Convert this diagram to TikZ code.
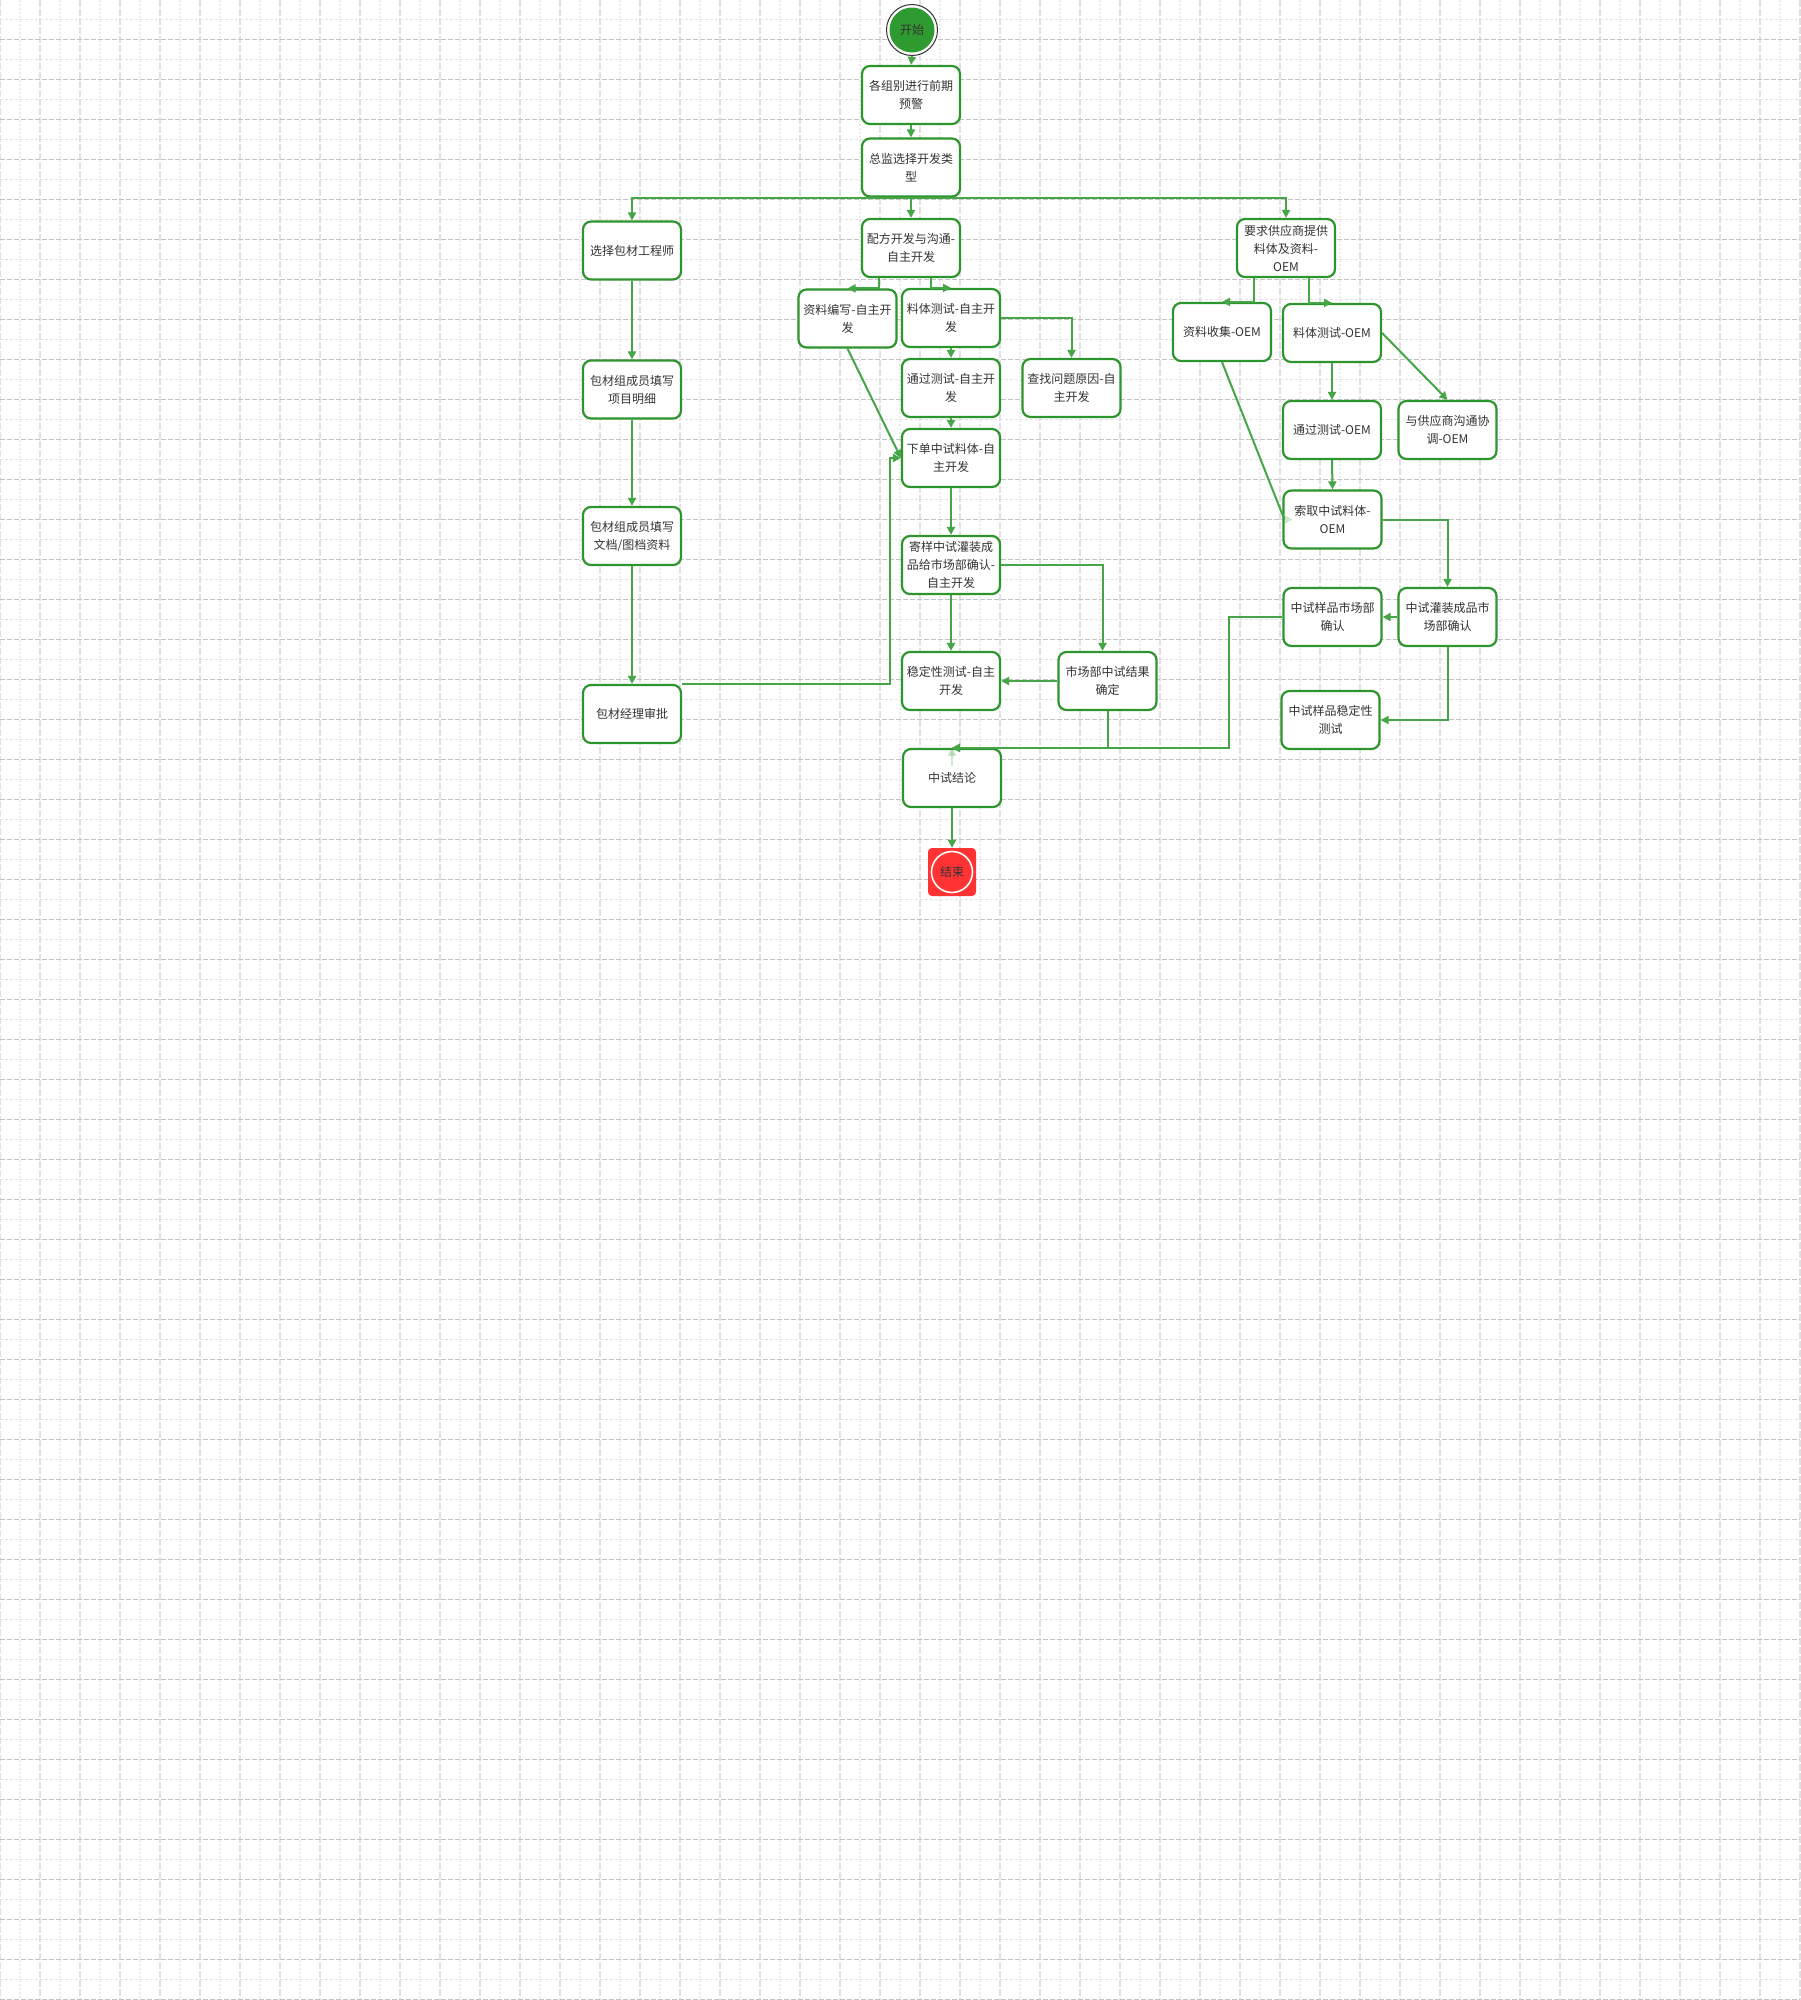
\documentclass[tikz,border=0pt]{standalone}
\usepackage{fontspec}
\setmainfont{Noto Sans CJK SC}
\usetikzlibrary{arrows.meta,calc}
\definecolor{boxgreen}{HTML}{2E952E}
\definecolor{linegreen}{HTML}{46A546}
\definecolor{startgreen}{HTML}{2F9A2F}
\definecolor{txt}{HTML}{333333}
\definecolor{endred}{HTML}{FF3333}
\begin{document}
\begin{tikzpicture}[x=1pt,y=-1pt,
  box/.style={draw=boxgreen,line width=2.2pt,rounded corners=8pt,fill=white,
    minimum width=98pt,minimum height=58pt,inner sep=0pt,align=center,
    text=txt,font=\fontsize{12}{18}\selectfont},
  lbl/.style={text=txt,font=\fontsize{12}{18}\selectfont,inner sep=0pt},
  conn/.style={draw=linegreen,line width=2pt,-{Triangle[length=8pt,width=8pt]}},
  plainconn/.style={draw=linegreen,line width=2pt},
  gmajv/.style={draw={rgb,255:red,224;green,224;blue,224},line width=1.6pt,dash pattern=on 7pt off 2pt},
  gminv/.style={draw={rgb,255:red,236;green,236;blue,236},line width=1.1pt,dash pattern=on 2pt off 2pt},
  gmajh/.style={draw={rgb,255:red,195;green,195;blue,195},line width=1pt,dash pattern=on 5pt off 2pt},
  gminh/.style={draw={rgb,255:red,226;green,226;blue,226},line width=1pt,dash pattern=on 3pt off 2pt}]

\useasboundingbox (0,0) rectangle (1800,2000);
\fill[white] (0,0) rectangle (1800,2000);

% grid
\foreach \i in {0,...,44} { \draw[gminv] (20+40*\i,0) -- (20+40*\i,2000); }
\foreach \i in {0,...,45} { \draw[gmajv] (40*\i,0) -- (40*\i,2000); }
\foreach \i in {0,...,49} { \draw[gminh] (0,19.5+40*\i) -- (1800,19.5+40*\i); }
\foreach \i in {0,...,49} { \draw[gmajh] (0,39.5+40*\i) -- (1800,39.5+40*\i); }

% start
\node[circle,draw=txt,line width=1pt,fill=white,minimum size=51pt,inner sep=0pt] (start) at (912,30) {};
\fill[startgreen] (start.center) circle (22.5);
\node[lbl] (startlbl) at (start.center) {开始};

% main column
\node[box] (b1) at (911,95) {各组别进行前期\\预警};
\node[box] (b2) at (911,167.5) {总监选择开发类\\型};
\node[box] (pf) at (911,248) {配方开发与沟通-\\自主开发};

% left column
\node[box] (xz) at (632,250.5) {选择包材工程师};
\node[box] (xmmx) at (632,389.5) {包材组成员填写\\项目明细};
\node[box] (wd) at (632,536) {包材组成员填写\\文档/图档资料};
\node[box] (spp) at (632,714) {包材经理审批};

% self development
\node[box] (zlbx) at (847.5,318.5) {资料编写-自主开\\发};
\node[box] (ltcs) at (951,318) {料体测试-自主开\\发};
\node[box] (tgcs) at (951,388) {通过测试-自主开\\发};
\node[box] (cz) at (1071.5,388) {查找问题原因-自\\主开发};
\node[box] (xd) at (951,458) {下单中试料体-自\\主开发};
\node[box] (jy) at (951,565) {寄样中试灌装成\\品给市场部确认-\\自主开发};
\node[box] (wdx) at (951,681) {稳定性测试-自主\\开发};
\node[box] (scb) at (1107.5,681) {市场部中试结果\\确定};
\node[box] (zsjl) at (952,778) {中试结论};

% OEM
\node[box] (oem) at (1286,248) {要求供应商提供\\料体及资料-\\OEM};
\node[box] (zlsj) at (1222,332) {资料收集-OEM};
\node[box] (lt2) at (1332,333) {料体测试-OEM};
\node[box] (tg2) at (1332,430) {通过测试-OEM};
\node[box] (yg) at (1447.5,430) {与供应商沟通协\\调-OEM};
\node[box] (qq) at (1332.5,519.5) {索取中试料体-\\OEM};
\node[box] (zyscb) at (1332.5,617) {中试样品市场部\\确认};
\node[box] (gz) at (1447.5,617) {中试灌装成品市\\场部确认};
\node[box] (zywdx) at (1330.5,720) {中试样品稳定性\\测试};

% end
\node[fill=endred,rounded corners=4pt,minimum size=48pt,inner sep=0pt] (end) at (952,872) {};
\draw[white,line width=1.6pt] (end.center) circle (20.5);
\node[lbl] (endlbl) at (end.center) {结束};

% connectors
\draw[conn] (start.south) -- (b1.north);
\draw[conn] (b1.south) -- (b2.north);
\draw[conn] (b2.south) -- (pf.north);
\draw[conn] (b2.south) -| (xz.north);
\draw[conn] (b2.south) -| (oem.north);

\draw[conn] (xz.south) -- (xmmx.north);
\draw[conn] (xmmx.south) -- (wd.north);
\draw[conn] (wd.south) -- (spp.north);
\draw[conn] (spp.north east) -| ([xshift=-11pt]xd.west) -- (xd.west);

\draw[conn] ([xshift=-32pt]pf.south) |- (zlbx.north);
\draw[conn] ([xshift=20pt]pf.south) |- (ltcs.north);
\draw[conn] (zlbx.south) -- (xd.west);
\draw[conn] (ltcs.south) -- (tgcs.north);
\draw[conn] (ltcs.east) -| (cz.north);
\draw[conn] (tgcs.south) -- (xd.north);
\draw[conn] (xd.south) -- (jy.north);
\draw[conn] (jy.south) -- (wdx.north);
\draw[conn] (jy.east) -| ([xshift=-5pt]scb.north);
\draw[conn] (scb.west) -- (wdx.east);
\draw[conn] (scb.south) |- (zsjl.north);
\draw[conn] (zsjl.south) -- (end.north);
\draw[conn,opacity=0.25] ($(zsjl.north)+(0,18)$) -- (zsjl.north);

\draw[conn] ([xshift=-32pt]oem.south) |- (zlsj.north);
\draw[conn] ([xshift=23pt]oem.south) |- (lt2.north);
\draw[plainconn] (zlsj.south) -- ([xshift=2pt]qq.west);
\draw[conn,opacity=0.25,line width=0.5pt] ([xshift=2pt]qq.west) -- ([xshift=10pt]qq.west);
\draw[conn] (lt2.south) -- (tg2.north);
\draw[conn] (lt2.east) -- (yg.north);
\draw[conn] (tg2.south) -- (qq.north);
\draw[conn] (qq.east) -| (gz.north);
\draw[conn] (gz.west) -- (zyscb.east);
\draw[conn] (gz.south) |- (zywdx.east);
\draw[conn] (zyscb.west) -- ([xshift=-53pt]zyscb.west) |- (zsjl.north);
\end{tikzpicture}
\end{document}
